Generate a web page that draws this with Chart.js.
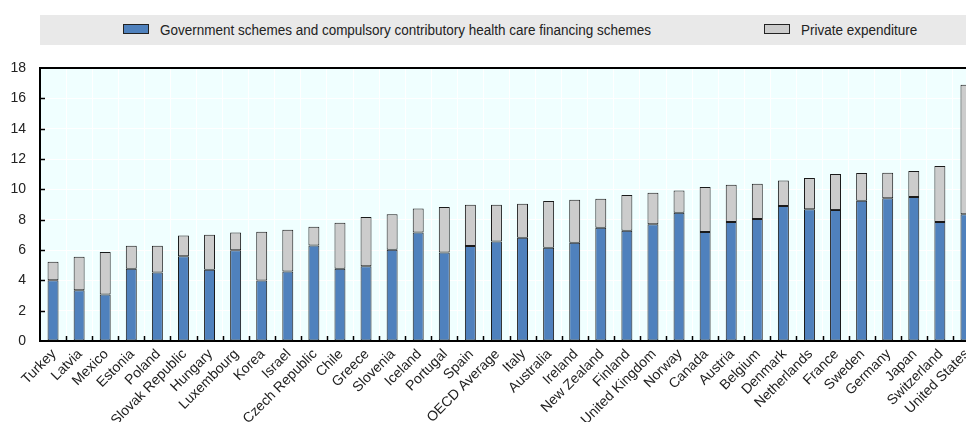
<!DOCTYPE html>
<html>
<head>
<meta charset="utf-8">
<script src="https://cdn.jsdelivr.net/npm/chart.js@4/dist/chart.umd.min.js"></script>
<style>
  html, body { margin: 0; padding: 0; background: #fff; overflow: hidden; width: 966px; height: 422px; }
  #wrap { position: absolute; left: 0; top: 0; width: 979px; height: 422px; }
  #legend { position: absolute; left: 40px; top: 15px; width: 940px; height: 30px; background: #e9e9e9;
            font-family: 'Liberation Sans', Arial, sans-serif; font-size: 15.5px; color: #222; }
  .sw { position: absolute; top: 9px; width: 24px; height: 8px; border: 1px solid #222; }
  .lt { position: absolute; top: 6px; line-height: 17px; white-space: nowrap; transform: scaleX(0.87); transform-origin: 0 50%; }
</style>
</head>
<body>
<div id="wrap">
  <canvas id="c" width="979" height="422"></canvas>
</div>
<div id="legend">
  <div class="sw" style="left:83px;background:#4f81bd"></div>
  <div class="lt" style="left:120px">Government schemes and compulsory contributory health care financing schemes</div>
  <div class="sw" style="left:724px;background:#cccccc"></div>
  <div class="lt" style="left:761px">Private expenditure</div>
</div>
<script>
const countries = ["Turkey","Latvia","Mexico","Estonia","Poland","Slovak Republic","Hungary","Luxembourg","Korea","Israel","Czech Republic","Chile","Greece","Slovenia","Iceland","Portugal","Spain","OECD Average","Italy","Australia","Ireland","New Zealand","Finland","United Kingdom","Norway","Canada","Austria","Belgium","Denmark","Netherlands","France","Sweden","Germany","Japan","Switzerland","United States"];
const government = [4.01,3.35,3.06,4.76,4.52,5.59,4.69,5.99,3.99,4.58,6.30,4.76,4.93,6.01,7.16,5.84,6.26,6.56,6.81,6.15,6.48,7.47,7.27,7.70,8.46,7.18,7.84,8.04,8.90,8.68,8.63,9.25,9.41,9.49,7.84,8.35];
const privateExp = [1.21,2.20,2.80,1.52,1.76,1.37,2.31,1.17,3.21,2.75,1.23,3.04,3.24,2.34,1.58,2.99,2.73,2.43,2.24,3.08,2.84,1.91,2.36,2.07,1.47,2.97,2.47,2.33,1.69,2.07,2.38,1.83,1.69,1.72,3.70,8.54];
const yTicks = [0,2,4,6,8,10,12,14,16,18];

const frame = {
  id: 'frame',
  beforeDraw(chart) {
    const {ctx, chartArea: a} = chart;
    ctx.save();
    ctx.fillStyle = '#f0ffff';
    ctx.fillRect(a.left, a.top, a.right - a.left, a.bottom - a.top);
    ctx.restore();
  },
  afterDraw(chart) {
    const {ctx, chartArea: a, scales} = chart;
    ctx.save();
    ctx.strokeStyle = '#000';
    ctx.lineWidth = 2;
    ctx.beginPath();
    ctx.moveTo(a.left - 1, a.top);
    ctx.lineTo(a.right, a.top);
    ctx.stroke();
    ctx.lineWidth = 1.5;
    ctx.beginPath();
    scales.y.ticks.forEach(t => {
      if (t.value === 0 || t.value === 18) return;
      const y = Math.round(scales.y.getPixelForValue(t.value)) + 0.5;
      ctx.moveTo(a.left, y);
      ctx.lineTo(a.left + 5, y);
    });
    const xs = scales.x;
    for (let i = 1; i < countries.length; i++) {
      const x = Math.round((xs.getPixelForValue(i - 1) + xs.getPixelForValue(i)) / 2) + 0.5;
      ctx.moveTo(x, a.bottom);
      ctx.lineTo(x, a.bottom - 5);
    }
    ctx.stroke();
    ctx.restore();
  }
};

new Chart(document.getElementById('c'), {
  type: 'bar',
  data: {
    labels: countries,
    datasets: [
      { label: 'Government schemes and compulsory contributory health care financing schemes', data: government,
        backgroundColor: '#4f81bd', borderColor: '#1a1a1a', borderWidth: 1, borderSkipped: false,
        barPercentage: 0.42, categoryPercentage: 1 },
      { label: 'Private expenditure', data: privateExp,
        backgroundColor: '#cccccc', borderColor: '#1a1a1a', borderWidth: 1, borderSkipped: false,
        barPercentage: 0.42, categoryPercentage: 1 }
    ]
  },
  options: {
    responsive: false,
    animation: false,
    layout: { padding: { top: 68, right: 0, left: 0, bottom: 0 } },
    plugins: { legend: { display: false }, tooltip: { enabled: false } },
    scales: {
      x: {
        stacked: true,
        afterFit(s) { s.height = 81; s.paddingRight = 0; },
        grid: { color: '#ffffff', lineWidth: 1, offset: true, drawTicks: false },
        border: { color: '#000', width: 2 },
        ticks: { autoSkip: false, maxRotation: 45, minRotation: 45, padding: 5, labelOffset: 1, color: '#222',
                 font: { family: "'Liberation Sans', Arial, sans-serif", size: 14 } }
      },
      y: {
        stacked: true,
        min: 0, max: 18,
        afterFit(s) { s.width = 40; },
        afterBuildTicks(s) { s.ticks = yTicks.map(v => ({ value: v })); },
        grid: { color: '#ffffff', lineWidth: 1, drawTicks: false },
        border: { color: '#000', width: 2 },
        ticks: { padding: 14, color: '#222',
                 font: { family: "'Liberation Sans', Arial, sans-serif", size: 14 } }
      }
    }
  },
  plugins: [frame]
});
</script>
</body>
</html>
